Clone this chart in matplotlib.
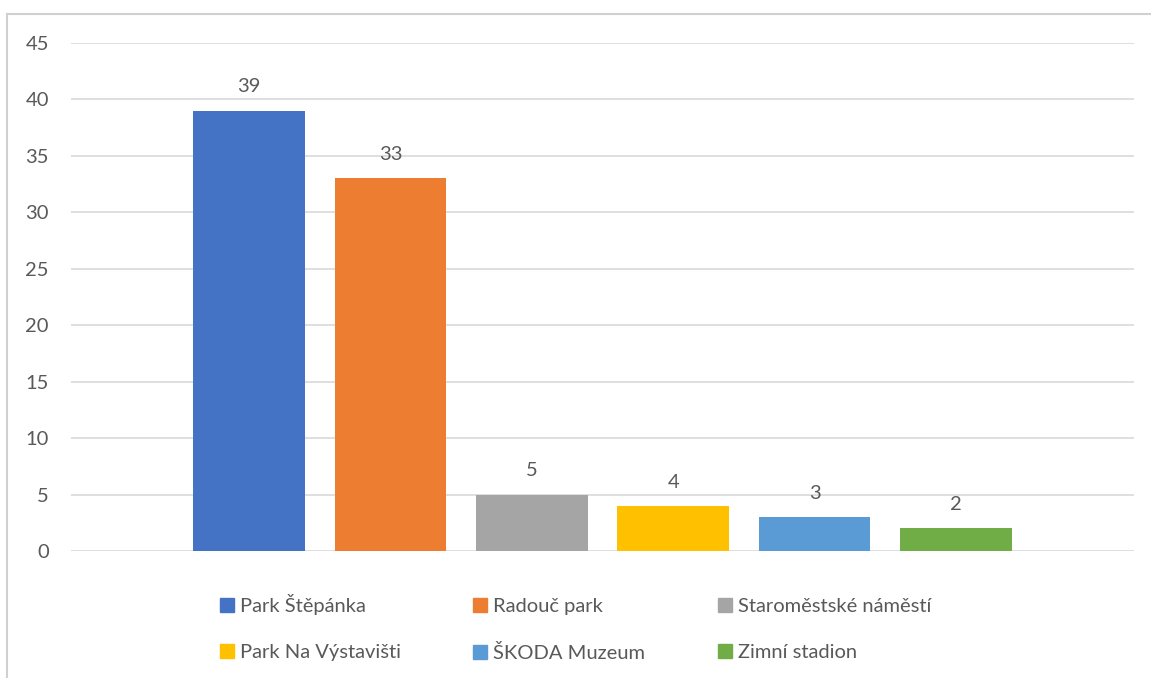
import matplotlib.pyplot as plt
import matplotlib.patches as mpatches
from matplotlib.lines import Line2D

plt.rcParams['font.family'] = ['Lato', 'DejaVu Sans']

# data
places = ["Park Štěpánka", "Radouč park", "Staroměstské náměstí",
          "Park Na Výstavišti", "ŠKODA Muzeum", "Zimní stadion"]
counts = [39, 33, 5, 4, 3, 2]
colors = ["#4472C4", "#ED7D31", "#A5A5A5", "#FFC000", "#5B9BD5", "#70AD47"]
yticks = [0, 5, 10, 15, 20, 25, 30, 35, 40, 45]

txt = "#595959"
fs = 14.5

fig = plt.figure(figsize=(11.51, 6.78), dpi=100)
ax = fig.add_axes([71 / 1151, 1 - 551 / 678, (1134 - 71) / 1151, (551 - 43) / 678])

for i, (p, c, col) in enumerate(zip(places, counts, colors)):
    ax.bar(i, c, width=0.79, color=col, label=p, zorder=3)
    ax.annotate(str(c), (i, c), xytext=(0, 11), textcoords="offset points",
                ha="center", va="bottom", fontsize=fs, color=txt)

ax.set_xlim(-1.26, 6.26)
ax.set_ylim(0, 45)
ax.set_yticks(yticks)
ax.set_xticks([])
ax.tick_params(axis="y", length=0, labelsize=fs, labelcolor=txt, pad=16)
ax.yaxis.grid(True, color="#d9d9d9", linewidth=1.2, zorder=0)
for s in ax.spines.values():
    s.set_visible(False)

# legend, row-wise order across 3 columns
order = [0, 3, 1, 4, 2, 5]
handles = [mpatches.Patch(color=colors[k]) for k in order]
labels = [places[k] for k in order]
fig.legend(handles, labels, ncol=3, loc="center", bbox_to_anchor=(0.5, 0.074),
           frameon=False, fontsize=fs, labelcolor=txt, handlelength=0.7,
           handleheight=0.7, handletextpad=0.3, columnspacing=3.6,
           labelspacing=1.45)

# chart border (top and left visible)
fig.add_artist(Line2D([7 / 1151, 1], [1 - 14 / 678, 1 - 14 / 678],
                      transform=fig.transFigure, color="#d0d0d0", linewidth=1.5))
fig.add_artist(Line2D([7 / 1151, 7 / 1151], [0, 1 - 14 / 678],
                      transform=fig.transFigure, color="#d0d0d0", linewidth=1.5))

fig.savefig("out.png", dpi=100)
